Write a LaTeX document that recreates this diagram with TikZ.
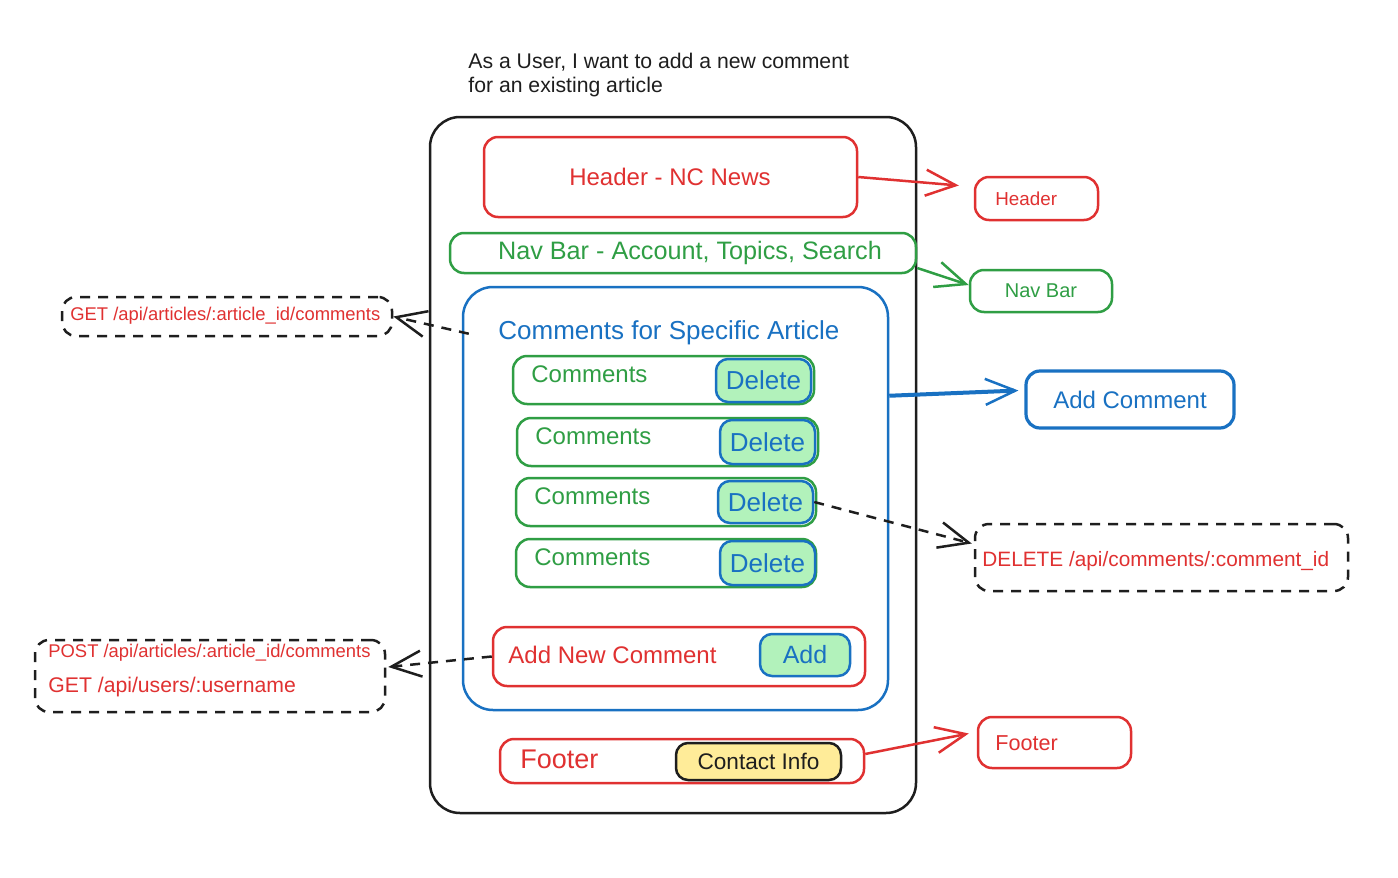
\documentclass[tikz,border=0pt]{standalone}
\usepackage{fontspec}
\setmainfont{Liberation Sans}
\usetikzlibrary{arrows.meta,fit,calc}
\definecolor{cred}{HTML}{E03131}
\definecolor{cgreen}{HTML}{2F9E44}
\definecolor{cblue}{HTML}{1971C2}
\definecolor{cblack}{HTML}{1E1E1E}
\definecolor{lgreen}{HTML}{B2F2BB}
\definecolor{lyellow}{HTML}{FFEC99}
\newcommand{\fs}[1]{\fontsize{#1}{#1}\selectfont}
\begin{document}
\begin{tikzpicture}[x=0.5pt,y=-0.5pt,
  rbox/.style={draw=#1, line width=1.25pt, rounded corners=7pt, inner sep=0pt},
  dbox/.style={draw=cblack, line width=1.25pt, rounded corners=7pt, inner sep=0pt, dash pattern=on 5pt off 4pt},
  btn/.style={draw=cblue, fill=lgreen, line width=1.25pt, rounded corners=6pt, inner sep=0pt},
  conn/.style={line width=1.25pt, -{Straight Barb[length=15pt,width=13pt,line width=1.25pt]}},
  dconn/.style={conn, draw=cblack, dash pattern=on 5pt off 4pt},
  txt/.style={inner sep=0pt, anchor=west},
  ctxt/.style={inner sep=0pt}
]
\useasboundingbox[fill=white] (0,0) rectangle (1398,878);

% title
\node[txt, align=left, text=cblack, font=\fs{10.6}] (title) at (468,75) {As a User, I want to add a new comment\\[1pt]for an existing article};

% outer frame
\node[rbox=cblack, rounded corners=15pt, fit={(430,117)(916,813)}] (frame) {};

% header
\node[rbox=cred, fit={(484,137)(857,217)}] (hdr) {};
\node[ctxt, text=cred, font=\fs{12}] (hdrT) at (670,177) {Header - NC News};
\node[rbox=cred, fit={(975,177)(1098,220)}] (hdrS) {};
\node[txt, text=cred, font=\fs{9.4}] (hdrST) at (995,199) {Header};

% nav
\node[rbox=cgreen, fit={(450,233)(916,273)}] (nav) {};
\node[ctxt, text=cgreen, font=\fs{12.6}] (navT) at (690,253) {Nav Bar - Account, Topics, Search};
\node[rbox=cgreen, fit={(970,270)(1112,312)}] (navS) {};
\node[ctxt, text=cgreen, font=\fs{10}] (navST) at (1041,291) {Nav Bar};

% comments container
\node[rbox=cblue, rounded corners=15pt, fit={(463,287)(888,710)}] (big) {};
\node[txt, text=cblue, font=\fs{13}] (bigT) at (498,333) {Comments for Specific Article};

% comment rows
\foreach \i/\xa/\ya/\xb/\yb/\dxa/\dya/\dxb/\dyb in {1/513/356/814/404/716/359/811/402, 2/517/418/818/466/720/420/815/464, 3/516/478/816/526/718/481/813/523, 4/516/539/816/587/720/541/815/585}{
  \node[rbox=cgreen, fit={(\xa,\ya)(\xb,\yb)}] (row\i) {};
  \node[txt, text=cgreen, font=\fs{12}] (rowT\i) at ($(\xa,\ya)+(18,18)$) {Comments};
  \node[btn, fit={(\dxa,\dya)(\dxb,\dyb)}] (del\i) {};
  \node[ctxt, text=cblue, font=\fs{13}] (delT\i) at (del\i.center) {Delete};
}

% add new comment
\node[rbox=cred, fit={(493,627)(865,686)}] (addNew) {};
\node[txt, text=cred, font=\fs{12}] (addNewT) at (508,655) {Add New Comment};
\node[btn, fit={(760,634)(850,676)}] (addBtn) {};
\node[ctxt, text=cblue, font=\fs{12.5}] (addBtnT) at (addBtn.center) {Add};

% footer
\node[rbox=cred, fit={(500,739)(864,783)}] (foot) {};
\node[txt, text=cred, font=\fs{13.5}] (footT) at (520,759) {Footer};
\node[draw=cblack, fill=lyellow, line width=1.25pt, rounded corners=6pt, inner sep=0pt, fit={(676,743)(841,780)}] (contact) {};
\node[ctxt, text=cblack, font=\fs{11.3}] (contactT) at (contact.center) {Contact Info};
\node[rbox=cred, fit={(978,717)(1131,768)}] (footS) {};
\node[txt, text=cred, font=\fs{10.8}] (footST) at (995,743) {Footer};

% add comment (right)
\node[rbox=cblue, line width=1.6pt, fit={(1026,371)(1234,428)}] (addC) {};
\node[ctxt, text=cblue, font=\fs{12}] (addCT) at (addC.center) {Add Comment};

% API boxes
\node[dbox, fit={(62,297)(392,336)}] (get) {};
\node[txt, text=cred, font=\fs{9.2}] (getT) at (70,316) {GET /api/articles/:article\_id/comments};
\node[dbox, fit={(35,640)(385,712)}] (post) {};
\node[txt, text=cred, font=\fs{9.2}] (postT) at (48,653) {POST /api/articles/:article\_id/comments};
\node[txt, text=cred, font=\fs{10.6}] (postT2) at (48,687) {GET /api/users/:username};
\node[dbox, fit={(975,524)(1348,591)}] (delS) {};
\node[txt, text=cred, font=\fs{10.4}] (delST) at (982,561) {DELETE /api/comments/:comment\_id};

% connectors
\draw[conn, draw=cred] (hdr.east) -- ($(hdrS.west)+(-15,-13)$);
\draw[conn, draw=cgreen] ($(nav.east)+(0,15)$) -- ($(navS.west)+(0,-6)$);
\draw[conn, draw=cblue, line width=2pt] ($(big.north east)+(0,110)$) -- ($(addC.west)+(-6,-9)$);
\draw[conn, draw=cred] ($(foot.east)+(0,-7)$) -- ($(footS.west)+(-8,-9)$);
\draw[dconn] ($(big.north west)+(7,48)$) -- (get.east);
\draw[dconn] (addNew.west) -- ($(post.east)+(2,-9)$);
\draw[dconn] (del3.east) -- ($(delS.west)+(-2,-14)$);
\end{tikzpicture}
\end{document}
